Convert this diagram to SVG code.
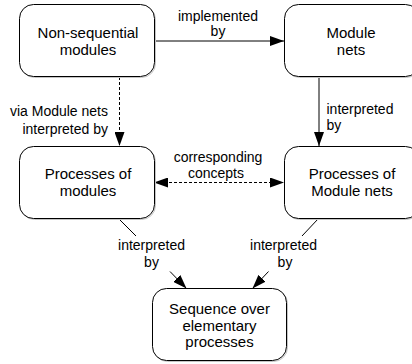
<svg xmlns="http://www.w3.org/2000/svg" width="412" height="364" viewBox="0 0 412 364">
  <defs>
    <marker id="arrow" viewBox="0 0 14 10" refX="14" refY="5" markerWidth="14" markerHeight="10" markerUnits="userSpaceOnUse" orient="auto-start-reverse">
      <path d="M0,0 L14,5 L0,10 Z" fill="#000"/>
    </marker>
  </defs>
  <style>
    .box { fill: #fff; stroke: #000; stroke-width: 1; }
    .shadow { fill: none; stroke: #c4c4c4; stroke-width: 1; }
    .node-label { font-family: "Liberation Sans", Arial, sans-serif; font-size: 15px; fill: #000; text-anchor: middle; }
    .edge-label { font-family: "Liberation Sans", Arial, sans-serif; font-size: 14px; fill: #000; }
    .edge { fill: none; stroke: #000; stroke-width: 1; }
    .dashed { stroke-dasharray: 3 2; }
  </style>
  <rect width="412" height="364" fill="#fff"/>

  <!-- connectors -->
  <g id="connectors">
    <line class="edge" x1="154" y1="41" x2="284" y2="41" marker-end="url(#arrow)"/>
    <text class="edge-label" x="218" y="20.5" text-anchor="middle">implemented</text>
    <text class="edge-label" x="218" y="36" text-anchor="middle">by</text>

    <line class="edge dashed" x1="119.5" y1="77" x2="119.5" y2="146" marker-end="url(#arrow)"/>
    <text class="edge-label" x="108" y="115.5" text-anchor="end">via Module nets</text>
    <text class="edge-label" x="108" y="134" text-anchor="end">interpreted by</text>

    <line class="edge" x1="319" y1="77" x2="319" y2="146" marker-end="url(#arrow)"/>
    <text class="edge-label" x="326.5" y="113.5">interpreted</text>
    <text class="edge-label" x="326.5" y="129.5">by</text>

    <line class="edge dashed" x1="154" y1="182.5" x2="284" y2="182.5" marker-start="url(#arrow)" marker-end="url(#arrow)"/>
    <text class="edge-label" x="218" y="161.5" text-anchor="middle">corresponding</text>
    <text class="edge-label" x="216" y="178" text-anchor="middle">concepts</text>

    <line class="edge" x1="119" y1="219" x2="136" y2="236"/>
    <line class="edge" x1="170" y1="271.5" x2="186.5" y2="288.5" marker-end="url(#arrow)"/>
    <text class="edge-label" x="151.5" y="250" text-anchor="middle">interpreted</text>
    <text class="edge-label" x="151.5" y="266.5" text-anchor="middle">by</text>

    <line class="edge" x1="318" y1="219" x2="302" y2="236"/>
    <line class="edge" x1="268.5" y1="271.5" x2="252.5" y2="288.5" marker-end="url(#arrow)"/>
    <text class="edge-label" x="283.5" y="250" text-anchor="middle">interpreted</text>
    <text class="edge-label" x="285" y="266.5" text-anchor="middle">by</text>
  </g>

  <!-- nodes -->
  <g id="non-sequential-modules">
    <rect class="shadow" x="20.5" y="5.5" width="135" height="72" rx="14"/>
    <rect class="box" x="19.5" y="4.5" width="135" height="72" rx="14"/>
    <text class="node-label" x="88" y="37.5">Non-sequential</text>
    <text class="node-label" x="88" y="55">modules</text>
  </g>

  <g id="module-nets">
    <rect class="shadow" x="285.5" y="5.5" width="135" height="72" rx="14"/>
    <rect class="box" x="284.5" y="4.5" width="135" height="72" rx="14"/>
    <text class="node-label" x="351" y="37.5">Module</text>
    <text class="node-label" x="351" y="55">nets</text>
  </g>

  <g id="processes-of-modules">
    <rect class="shadow" x="20.5" y="147.5" width="135" height="72" rx="14"/>
    <rect class="box" x="19.5" y="146.5" width="135" height="72" rx="14"/>
    <text class="node-label" x="88" y="178.5">Processes of</text>
    <text class="node-label" x="88" y="196">modules</text>
  </g>

  <g id="processes-of-module-nets">
    <rect class="shadow" x="285.5" y="147.5" width="135" height="72" rx="14"/>
    <rect class="box" x="284.5" y="146.5" width="135" height="72" rx="14"/>
    <text class="node-label" x="352" y="178.5">Processes of</text>
    <text class="node-label" x="352" y="196">Module nets</text>
  </g>

  <g id="sequence-over-elementary-processes">
    <rect class="shadow" x="153.5" y="289.5" width="134" height="72" rx="14"/>
    <rect class="box" x="152.5" y="288.5" width="134" height="72" rx="14"/>
    <text class="node-label" x="219.5" y="314">Sequence over</text>
    <text class="node-label" x="219.5" y="330.5">elementary</text>
    <text class="node-label" x="219.5" y="347">processes</text>
  </g>
</svg>
